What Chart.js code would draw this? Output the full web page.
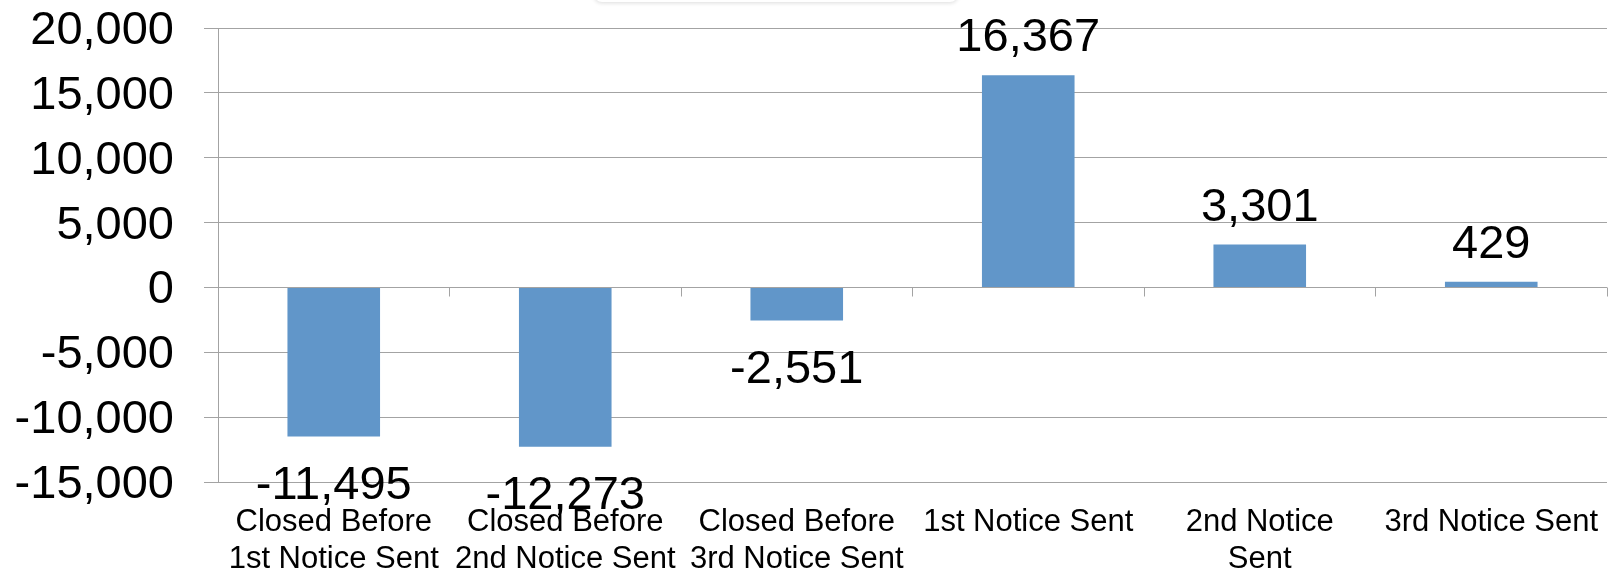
<!DOCTYPE html>
<html>
<head>
<meta charset="utf-8">
<script src="https://cdn.jsdelivr.net/npm/chart.js@4/dist/chart.umd.min.js"></script>
<style>
  html, body { margin: 0; padding: 0; background: #ffffff; overflow: hidden; }
  #wrap { position: relative; width: 1621px; height: 574px; }
  #tab { position: absolute; left: 594px; top: -40px; width: 364px; height: 42px;
         border-radius: 8px; background: #ffffff; box-shadow: 0 1px 4px rgba(0,0,0,0.14); z-index: 2; }
</style>
</head>
<body>
<div id="wrap">
  <div id="tab"></div>
  <canvas id="chart" width="1621" height="574"></canvas>
</div>
<script>
// Net change in open accounts by notice stage
const categories = [
  ['Closed Before', '1st Notice Sent'],
  ['Closed Before', '2nd Notice Sent'],
  ['Closed Before', '3rd Notice Sent'],
  '1st Notice Sent',
  ['2nd Notice', 'Sent'],
  '3rd Notice Sent'
];
const netChange = [-11495, -12273, -2551, 16367, 3301, 429];
const yTicks = [-15000, -10000, -5000, 0, 5000, 10000, 15000, 20000];

const FONT = "'Liberation Sans', Arial, sans-serif";
const GRID = '#a3a3a3';
const fmt = v => Number(v).toLocaleString('en-US');

// Value labels above positive bars and below negative bars
const valueLabels = {
  id: 'valueLabels',
  afterDatasetsDraw(chart) {
    const ctx = chart.ctx;
    const meta = chart.getDatasetMeta(0);
    ctx.save();
    ctx.font = '47px ' + FONT;
    ctx.fillStyle = '#000000';
    ctx.textAlign = 'center';
    ctx.textBaseline = 'alphabetic';
    meta.data.forEach((bar, i) => {
      const v = netChange[i];
      const y = v >= 0 ? bar.y - 24 : bar.y + 62;
      ctx.fillText(fmt(v), bar.x, y);
    });
    ctx.restore();
  }
};

// Category tick marks hanging below the zero line
const zeroTicks = {
  id: 'zeroTicks',
  afterDraw(chart) {
    const ctx = chart.ctx;
    const xs = chart.scales.x;
    const y0 = Math.round(chart.scales.y.getPixelForValue(0)) + 0.5;
    ctx.save();
    ctx.strokeStyle = GRID;
    ctx.lineWidth = 1;
    ctx.beginPath();
    for (let i = 1; i <= categories.length; i++) {
      const x = Math.round(xs.getPixelForValue(i - 0.5)) + 0.5;
      ctx.moveTo(x, y0);
      ctx.lineTo(x, y0 + 9);
    }
    ctx.stroke();
    ctx.restore();
  }
};

new Chart(document.getElementById('chart'), {
  type: 'bar',
  data: {
    labels: categories,
    datasets: [{
      data: netChange,
      backgroundColor: '#6196c9',
      borderWidth: 0,
      barPercentage: 0.4,
      categoryPercentage: 1.0
    }]
  },
  options: {
    responsive: false,
    animation: false,
    layout: { padding: { top: 0, right: 11, left: 0, bottom: 0 } },
    plugins: {
      legend: { display: false },
      tooltip: { enabled: false }
    },
    scales: {
      x: {
        grid: { display: false, drawTicks: false },
        border: { display: false },
        ticks: {
          color: '#000000',
          font: { family: FONT, size: 31, lineHeight: 1.19 },
          padding: 22,
          maxRotation: 0,
          autoSkip: false
        },
        afterFit(scale) { scale.height = 92; }
      },
      y: {
        min: yTicks[0],
        max: yTicks[yTicks.length - 1],
        afterBuildTicks(scale) { scale.ticks = yTicks.map(v => ({ value: v })); },
        grid: { color: GRID, lineWidth: 1, tickLength: 14, drawTicks: true },
        border: { display: true, color: GRID, width: 1 },
        ticks: {
          color: '#000000',
          font: { family: FONT, size: 47 },
          padding: 30,
          labelOffset: 3,
          callback: v => fmt(v)
        },
        afterFit(scale) {
          scale.width = 218;
          scale.paddingTop = 28;
          scale.paddingBottom = 0;
        }
      }
    }
  },
  plugins: [valueLabels, zeroTicks]
});
</script>
</body>
</html>
